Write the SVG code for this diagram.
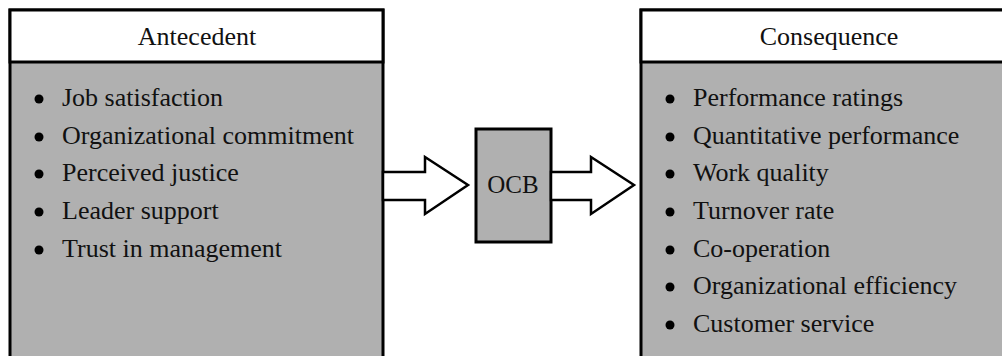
<svg xmlns="http://www.w3.org/2000/svg" width="1002" height="356" viewBox="0 0 1002 356">
<style>
.box{fill:#b0b0b0;stroke:#000;stroke-width:3}
.hdr{fill:#fff;stroke:#000;stroke-width:3}
.t{font-family:"Liberation Serif","Times New Roman",serif;font-size:26px;fill:#111}
.c{text-anchor:middle}
.arrow{fill:#fff;stroke:#000;stroke-width:2.5;stroke-linejoin:miter}
.dot{fill:#000}
</style>
<rect width="1002" height="356" fill="#fff"/>
<g id="antecedent">
<rect class="box" x="10" y="10" width="373" height="360"/>
<rect class="hdr" x="10" y="10" width="373" height="52"/>
<text class="t c" x="197" y="45">Antecedent</text>
<g>
<circle class="dot" cx="39" cy="99" r="4.5"/><text class="t" x="62" y="106">Job satisfaction</text>
<circle class="dot" cx="39" cy="137" r="4.5"/><text class="t" x="62" y="144">Organizational commitment</text>
<circle class="dot" cx="39" cy="174" r="4.5"/><text class="t" x="62" y="181">Perceived justice</text>
<circle class="dot" cx="39" cy="212" r="4.5"/><text class="t" x="62" y="219">Leader support</text>
<circle class="dot" cx="39" cy="250" r="4.5"/><text class="t" x="62" y="257">Trust in management</text>
</g>
</g>
<g id="ocb">
<rect class="box" x="476" y="129" width="75" height="113"/>
<text class="t c" x="513" y="193" style="font-size:25px">OCB</text>
</g>
<g id="consequence">
<rect class="box" x="641" y="10" width="380" height="360"/>
<rect class="hdr" x="641" y="10" width="380" height="52"/>
<text class="t c" x="829" y="45">Consequence</text>
<g>
<circle class="dot" cx="670" cy="99" r="4.5"/><text class="t" x="693" y="106">Performance ratings</text>
<circle class="dot" cx="670" cy="137" r="4.5"/><text class="t" x="693" y="144">Quantitative performance</text>
<circle class="dot" cx="670" cy="174" r="4.5"/><text class="t" x="693" y="181">Work quality</text>
<circle class="dot" cx="670" cy="212" r="4.5"/><text class="t" x="693" y="219">Turnover rate</text>
<circle class="dot" cx="670" cy="250" r="4.5"/><text class="t" x="693" y="257">Co-operation</text>
<circle class="dot" cx="670" cy="287" r="4.5"/><text class="t" x="693" y="294">Organizational efficiency</text>
<circle class="dot" cx="670" cy="325" r="4.5"/><text class="t" x="693" y="332">Customer service</text>
</g>
</g>
<g id="connectors">
<polygon class="arrow" points="383,172 425,172 425,157 468,185 425,214 425,200 383,200"/>
<polygon class="arrow" points="551,172 591,172 591,157 634,185 591,214 591,200 551,200"/>
</g>
</svg>
